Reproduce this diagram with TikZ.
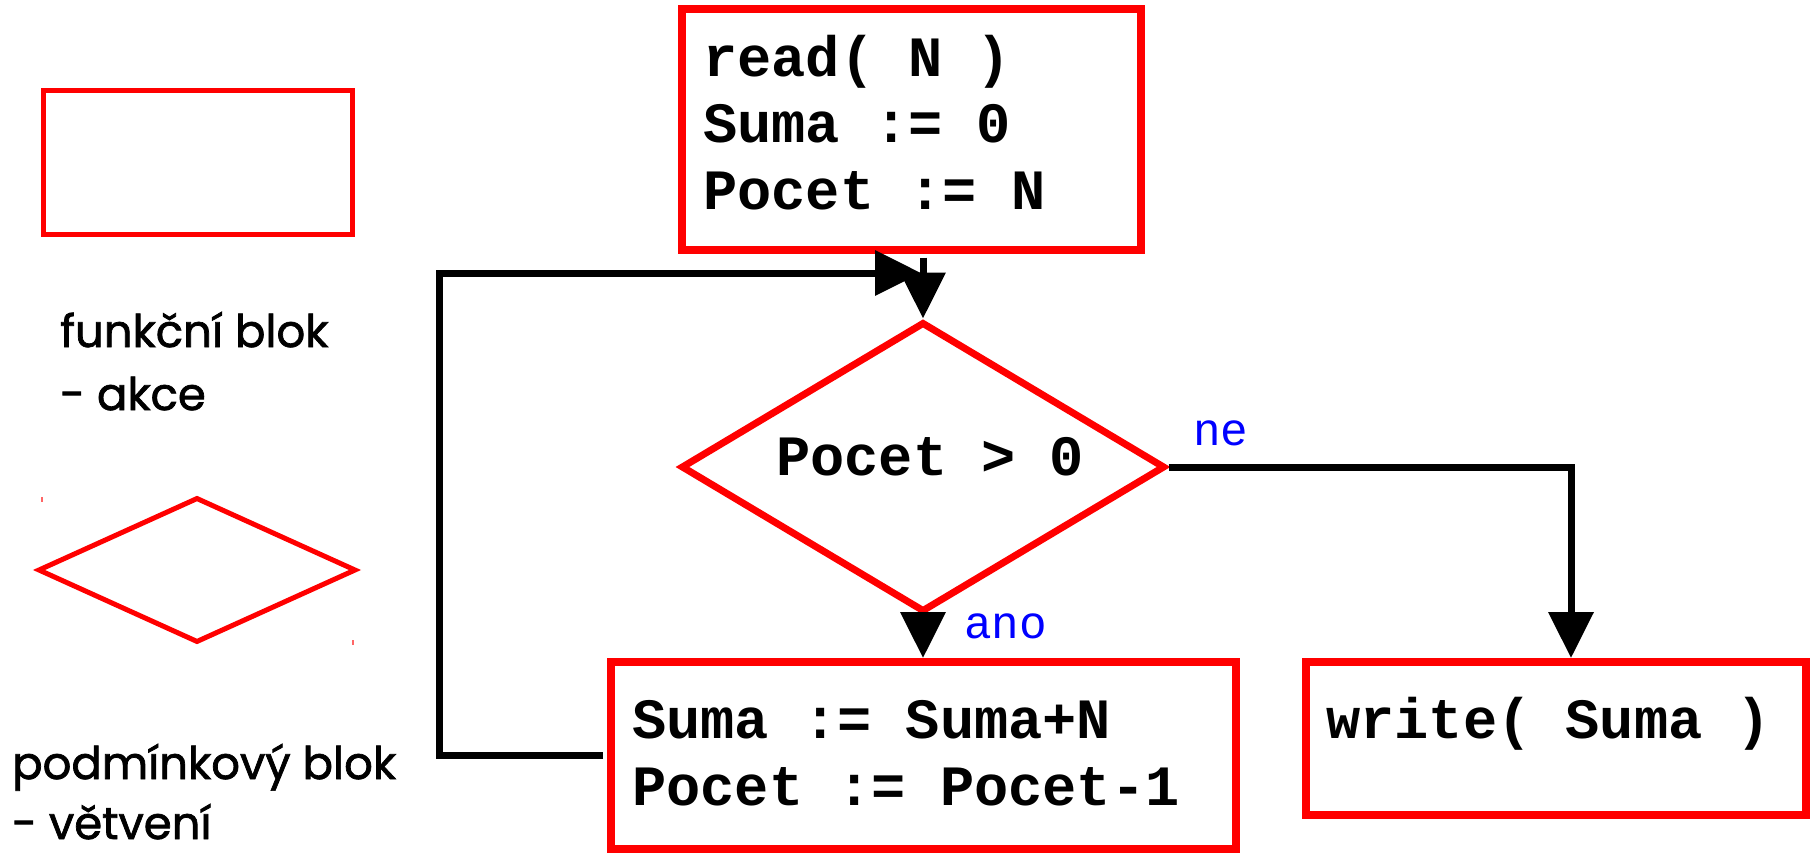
\documentclass[tikz,border=0pt]{standalone}
\usepackage{fontspec}
\usetikzlibrary{arrows.meta,shapes.geometric}
\newfontfamily\codefont{Liberation Mono}
\newfontfamily\legendfont{Poppins}[FakeBold=1.6]

\begin{document}
\begin{tikzpicture}[x=1pt,y=-1pt,
  box/.style={draw=red, line width=8pt, rectangle, inner sep=0pt},
  decision/.style={draw=red, line width=7pt, diamond, inner sep=0pt},
  legendbox/.style={draw=red, line width=5pt, rectangle, inner sep=0pt},
  legenddiamond/.style={draw=red, line width=5pt, diamond, inner sep=0pt},
  code/.style={anchor=base west, inner sep=0pt, font=\codefont\bfseries\fontsize{57}{66}\selectfont},
  answer/.style={anchor=base west, inner sep=0pt, text=blue, font=\codefont\fontsize{46}{52}\selectfont},
  legend/.style={anchor=base west, inner sep=0pt, font=\legendfont\fontsize{45}{54}\selectfont},
  flow/.style={draw=black, line width=7pt, -{Triangle[length=46pt,width=44pt]}},
  ]
\useasboundingbox (0,0) rectangle (1811,853);

% legend
\node[legendbox, minimum width=309pt, minimum height=143pt] (lbox) at (197.5,162.5) {};
\node[legend] (lbox1) at (60,347) {funkční blok};
\node[legend] (lbox2) at (60,410) {- akce};
\node[legenddiamond, minimum width=318pt, minimum height=145pt] (ldia) at (197,570) {};
\node[legend] (ldia1) at (12,779) {podmínkový blok};
\node[legend] (ldia2) at (12,839) {- větvení};
\fill[red!60] (41,497) rectangle (43,502);
\fill[red!60] (352,640) rectangle (354,645);

% flowchart blocks
\node[box, minimum width=459pt, minimum height=240pt] (init) at (911.5,129.5) {};
\node[code] (init1) at (703,77) {read( N )};
\node[code] (init2) at (703,143) {Suma := 0};
\node[code] (init3) at (703,209) {Pocet := N};

\node[decision, minimum width=484pt, minimum height=290pt] (test) at (923,467) {};
\node[code] (test1) at (776,475) {Pocet > 0};

\node[box, minimum width=625pt, minimum height=187pt] (body) at (923.5,755.5) {};
\node[code] (body1) at (632,738) {Suma := Suma+N};
\node[code] (body2) at (632,805) {Pocet := Pocet-1};

\node[box, minimum width=500pt, minimum height=153pt] (out) at (1556,738.5) {};
\node[code] (out1) at (1326,738) {write( Suma )};

% connectors
\coordinate (loopin) at (921,273);
\coordinate (nejoin) at (1571,467);
\draw[flow, shorten <=4pt] (test.north |- init.south) -- (test.north);
\draw[flow, shorten <=4pt] (body.west) -- ++(-168,0) |- (loopin);
\draw[flow] (test.south) -- (test.south |- body.north);
\draw[flow] (test.east) -- (nejoin) -- (nejoin |- out.north);

\node[answer] (yes) at (964,638) {ano};
\node[answer] (no) at (1193,445) {ne};
\end{tikzpicture}
\end{document}
